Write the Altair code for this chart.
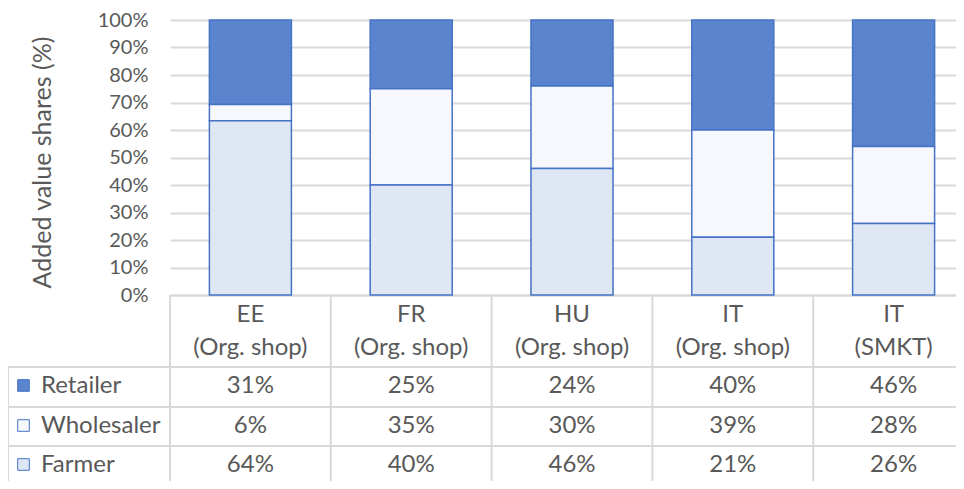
import altair as alt
import pandas as pd

# ---------------- data ----------------
codes = ["EE", "FR", "HU", "IT", "IT"]
kinds = ["(Org. shop)", "(Org. shop)", "(Org. shop)", "(Org. shop)", "(SMKT)"]
series = ["Retailer", "Wholesaler", "Farmer"]
retailer = [31, 25, 24, 40, 46]
wholesaler = [6, 35, 30, 39, 28]
farmer = [64, 40, 46, 21, 26]
y_ticks = [0, 0.1, 0.2, 0.3, 0.4, 0.5, 0.6, 0.7, 0.8, 0.9, 1.0]

cats = [f"{c} {k}" for c, k in zip(codes, kinds)]
values = {"Retailer": retailer, "Wholesaler": wholesaler, "Farmer": farmer}
stack_rank = {"Farmer": 0, "Wholesaler": 1, "Retailer": 2}

rows = []
for s in series:
    for i, c in enumerate(cats):
        rows.append({"cat": c, "code": codes[i], "kind": kinds[i], "series": s,
                     "value": values[s][i], "label": f"{values[s][i]}%",
                     "rank": stack_rank[s]})
df = pd.DataFrame(rows)
heads = pd.DataFrame({"cat": cats, "code": codes, "kind": kinds})
names = pd.DataFrame({"series": series})

# ---------------- style / layout ----------------
FONT = "Lato"
TXT = "#595959"
GRID = "#d9d9d9"
BLUE = "#4472c4"
fills = ["#5a85ce", "#f6f8fd", "#dfe7f5"]
color_scale = alt.Scale(domain=series, range=fills)

PLOT_W, RANGE_W, PLOT_H = 786, 804, 275
FS = 24
head_y = [302, 335]
row_lines = [347, 387, 426]
row_base = [373, 413, 452]
key_cy = [365.5, 405.5, 444.5]

bar_x = alt.Scale(domain=cats, range=[0, RANGE_W], paddingInner=0.49, paddingOuter=0.245)
tab_x = alt.Scale(domain=cats, range=[0, RANGE_W], paddingInner=0, paddingOuter=0)

bars = alt.Chart(df).mark_bar(stroke=BLUE, strokeWidth=1.5).encode(
    x=alt.X("cat:N", sort=cats, scale=bar_x,
            axis=alt.Axis(labels=False, ticks=False, title=None, domainColor=GRID,
                          domainWidth=2, grid=False)),
    y=alt.Y("value:Q", stack="normalize", scale=alt.Scale(domain=[0, 1]),
            axis=alt.Axis(values=y_ticks, format=".0%", title="Added value shares (%)",
                          labelFont=FONT, labelFontSize=20, labelColor=TXT, labelPadding=22,
                          ticks=False, domain=False, gridColor=GRID, gridWidth=1.8,
                          titleFont=FONT, titleFontSize=25, titleFontWeight="normal",
                          titleColor=TXT, titleAngle=270, titleAlign="center",
                          titleBaseline="middle", titleX=-128, titleY=142)),
    color=alt.Color("series:N", scale=color_scale, legend=None),
    order=alt.Order("rank:Q"),
)

layers = [bars]

# table header texts
for j, fld in enumerate(["code", "kind"]):
    layers.append(alt.Chart(heads).mark_text(font=FONT, fontSize=FS, color=TXT,
                                              baseline="alphabetic").encode(
        x=alt.X("cat:N", sort=cats, scale=tab_x, axis=None),
        y=alt.value(head_y[j]),
        text=f"{fld}:N"))

# vertical table lines at column starts
layers.append(alt.Chart(heads).mark_rule(color=GRID, strokeWidth=2).encode(
    x=alt.X("cat:N", sort=cats, scale=tab_x, axis=None, bandPosition=0),
    y=alt.value(PLOT_H), y2=alt.value(480)))
# left border of the legend column
layers.append(alt.Chart(names).mark_rule(color=GRID, strokeWidth=2).encode(
    x=alt.value(-162), y=alt.value(row_lines[0]), y2=alt.value(480)))
# horizontal row lines
for yl in row_lines:
    layers.append(alt.Chart(names).mark_rule(color=GRID, strokeWidth=2).encode(
        x=alt.value(-162), x2=alt.value(RANGE_W), y=alt.value(yl)))

# rows: key, name, values
for i, s in enumerate(series):
    sub = alt.Chart(df).transform_filter(alt.datum.series == s)
    layers.append(sub.mark_text(font=FONT, fontSize=FS, color=TXT,
                                baseline="alphabetic").encode(
        x=alt.X("cat:N", sort=cats, scale=tab_x, axis=None),
        y=alt.value(row_base[i]),
        text="label:N"))
    nm = alt.Chart(names).transform_filter(alt.datum.series == s)
    layers.append(nm.mark_square(filled=True, size=135, stroke=BLUE, strokeWidth=1,
                                 opacity=1).encode(
        x=alt.value(-146.5), y=alt.value(key_cy[i]),
        color=alt.Color("series:N", scale=color_scale, legend=None)))
    layers.append(nm.mark_text(font=FONT, fontSize=FS, color=TXT, align="left",
                               baseline="alphabetic").encode(
        x=alt.value(-129), y=alt.value(row_base[i]), text="series:N"))

chart = alt.layer(*layers).resolve_scale(x="independent").properties(
    width=PLOT_W, height=PLOT_H,
    autosize=alt.AutoSizeParams(type="none"),
    padding={"left": 162, "top": 12, "right": 0, "bottom": 186},
).configure_view(stroke=None)

chart.save("out.html", embed_options={"renderer": "svg", "actions": False})
